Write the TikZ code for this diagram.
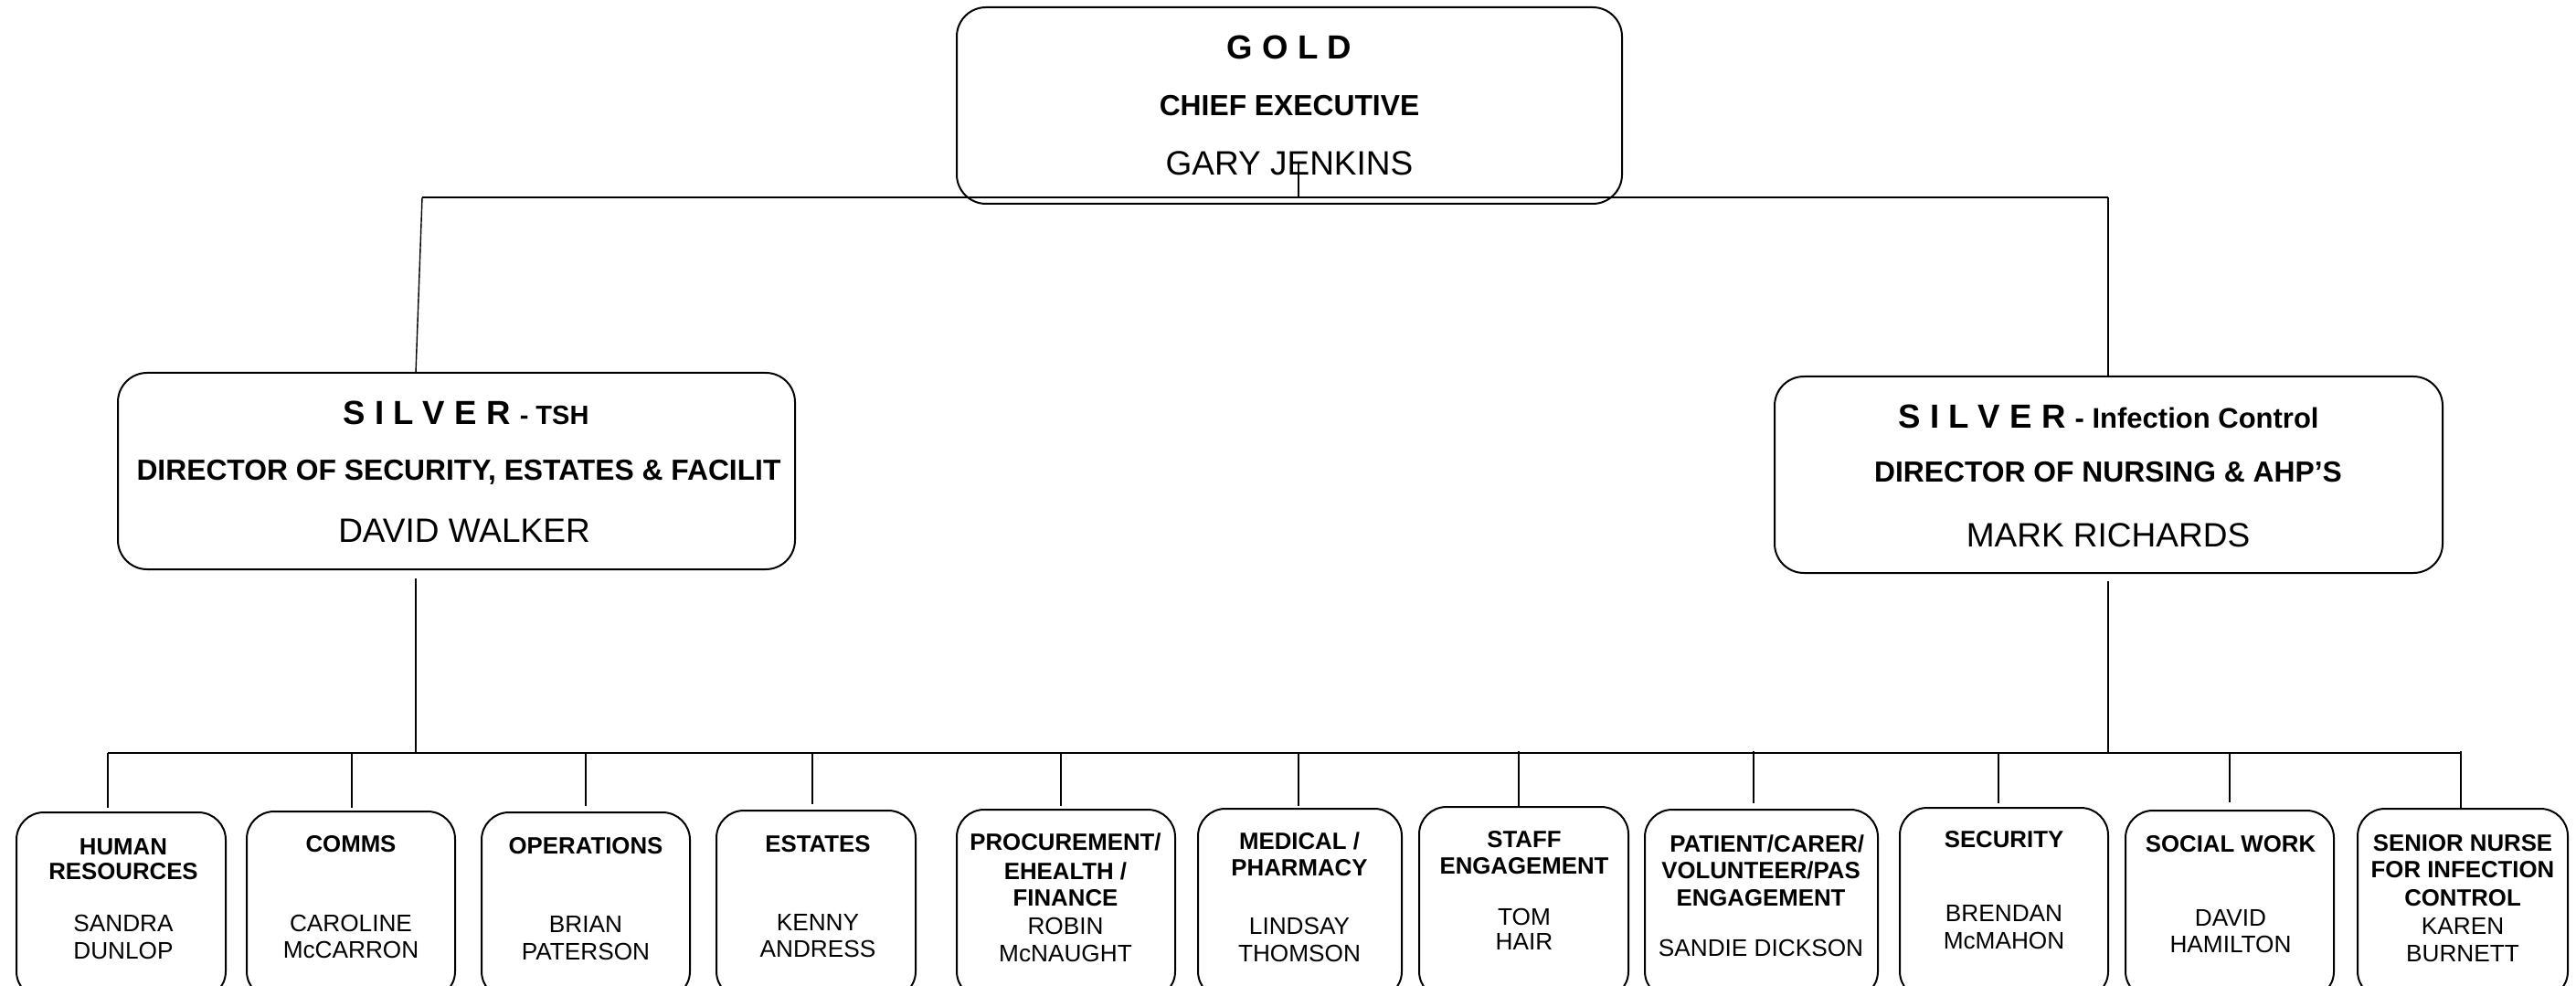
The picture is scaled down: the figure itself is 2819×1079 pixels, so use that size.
\documentclass[tikz,border=0pt]{standalone}
\usepackage{fontspec}
\setmainfont{Liberation Sans}
\newcommand{\tline}[5]{\node[#1] (#2) at (#3,#4) {#5};}
\begin{document}
\begin{tikzpicture}[x=0.5pt,y=-0.5pt,
  box/.style={draw, line width=1pt, rounded corners=16pt, inner sep=0pt},
  bbox/.style={draw, line width=1pt, rounded corners=15pt, inner sep=0pt},
  conn/.style={line width=0.7pt},
  rankt/.style={font=\fontsize{18.3}{20}\selectfont\bfseries, inner sep=0pt, text height=13.1pt, text depth=0pt},
  titlet/.style={font=\fontsize{15.9}{17}\selectfont\bfseries, inner sep=0pt, text height=11.4pt, text depth=0pt},
  namet/.style={font=\fontsize{18.5}{20}\selectfont, inner sep=0pt, text height=13.2pt, text depth=0pt},
  bh/.style={font=\fontsize{12.9}{15}\selectfont\bfseries, inner sep=0pt, text height=9.25pt, text depth=0pt},
  bn/.style={font=\fontsize{13.1}{15}\selectfont, inner sep=0pt, text height=9.4pt, text depth=0pt}
]
\useasboundingbox (0,0) rectangle (2819,1079);
\clip (0,0) rectangle (2819,1079);

% ---- Gold
\node[box, minimum width=364pt, minimum height=107.5pt] (gold) at (1411,115.5) {};
\node[rankt] (goldrank) at (1411,51) {G O L D};
\node[titlet] (goldtitle) at (1411,115) {CHIEF EXECUTIVE};
\node[namet] (goldname) at (1411,178) {GARY JENKINS};

% ---- Silver left
\node[box, minimum width=370.5pt, minimum height=107.5pt] (silverL) at (499.5,515.5) {};
\node[rankt] (silverLrank) at (510,451) {S I L V E R {\fontsize{14.5}{15}\selectfont - TSH}};
\node[titlet] (silverLtitle) at (502,514.5) {DIRECTOR OF SECURITY, ESTATES \& FACILIT};
\node[namet] (silverLname) at (508,580) {DAVID WALKER};

% ---- Silver right
\node[box, minimum width=365.5pt, minimum height=107.5pt] (silverR) at (2307.5,519.5) {};
\node[rankt] (silverRrank) at (2307.5,455) {S I L V E R {\fontsize{15.5}{16}\selectfont - Infection Control}};
\node[titlet] (silverRtitle) at (2307,516) {DIRECTOR OF NURSING \& AHP’S};
\node[namet] (silverRname) at (2307,585) {MARK RICHARDS};

% ---- Bottom boxes
\node[bbox, minimum width=114.5pt, minimum height=102pt]   (hr)    at (132.5,991)  {};
\node[bbox, minimum width=114pt,   minimum height=102.5pt] (comms) at (384,990.5)  {};
\node[bbox, minimum width=114pt,   minimum height=102pt]   (ops)   at (641,991)    {};
\node[bbox, minimum width=109pt,   minimum height=103pt]   (est)   at (893,990)    {};
\node[bbox, minimum width=119.5pt, minimum height=103.5pt] (proc)  at (1166.5,989.5) {};
\node[bbox, minimum width=111.5pt, minimum height=104pt]   (med)   at (1422.5,989) {};
\node[bbox, minimum width=114.5pt, minimum height=105pt]   (staff) at (1667.5,988) {};
\node[bbox, minimum width=127.5pt, minimum height=103.5pt] (pat)   at (1927.5,989.5) {};
\node[bbox, minimum width=114pt,   minimum height=104.5pt] (sec)   at (2193,988.5) {};
\node[bbox, minimum width=114pt,   minimum height=103pt]   (soc)   at (2440,990)   {};
\node[bbox, minimum width=115pt,   minimum height=104pt]   (sen)   at (2695,989)   {};

% ---- Bottom texts
\tline{bh}{hr1}{135}{926.5}{HUMAN}
\tline{bh}{hr2}{135}{953.5}{RESOURCES}
\tline{bn}{hr3}{135}{1010.5}{SANDRA}
\tline{bn}{hr4}{135}{1040.5}{DUNLOP}

\tline{bh}{co1}{384}{923}{COMMS}
\tline{bn}{co2}{384}{1010}{CAROLINE}
\tline{bn}{co3}{384}{1039}{McCARRON}

\tline{bh}{op1}{641}{925}{OPERATIONS}
\tline{bn}{op2}{641}{1011}{BRIAN}
\tline{bn}{op3}{641}{1041}{PATERSON}

\tline{bh}{es1}{895}{923}{ESTATES}
\tline{bn}{es2}{895}{1009}{KENNY}
\tline{bn}{es3}{895}{1038}{ANDRESS}

\tline{bh}{pr1}{1166}{921}{PROCUREMENT/}
\tline{bh}{pr2}{1166}{953}{EHEALTH /}
\tline{bh}{pr3}{1166}{982}{FINANCE}
\tline{bn}{pr4}{1166}{1013}{ROBIN}
\tline{bn}{pr5}{1166}{1043}{McNAUGHT}

\tline{bh}{me1}{1422}{920}{MEDICAL /}
\tline{bh}{me2}{1422}{949}{PHARMACY}
\tline{bn}{me3}{1422}{1013}{LINDSAY}
\tline{bn}{me4}{1422}{1043}{THOMSON}

\tline{bh}{st1}{1668}{918}{STAFF}
\tline{bh}{st2}{1668}{947}{ENGAGEMENT}
\tline{bn}{st3}{1668}{1003}{TOM}
\tline{bn}{st4}{1668}{1030}{HAIR}

\begin{scope}
\clip (1800,900) rectangle (2047,945);
\node[bh, anchor=west] (pa1) at (1827,923) {PATIENT/CARER/};
\end{scope}
\tline{bh}{pa2}{1927}{952}{VOLUNTEER/PAS}
\tline{bh}{pa3}{1927}{982}{ENGAGEMENT}
\tline{bn}{pa4}{1927}{1037}{SANDIE DICKSON}

\tline{bh}{se1}{2193}{918}{SECURITY}
\tline{bn}{se2}{2193}{999}{BRENDAN}
\tline{bn}{se3}{2193}{1029}{McMAHON}

\tline{bh}{so1}{2441}{923}{SOCIAL WORK}
\tline{bn}{so2}{2441}{1004}{DAVID}
\tline{bn}{so3}{2441}{1033}{HAMILTON}

\tline{bh}{sn1}{2695}{922}{SENIOR NURSE}
\tline{bh}{sn2}{2695}{951}{FOR INFECTION}
\tline{bh}{sn3}{2695}{982}{CONTROL}
\tline{bn}{sn4}{2695}{1013}{KAREN}
\tline{bn}{sn5}{2695}{1043}{BURNETT}

% ---- Connectors
\coordinate (gj) at (1421,216);
\coordinate (tl) at (462,216);
\coordinate (tr) at (2307,216);
\coordinate (sLin) at (455,408);
\draw[conn] (gj |- goldname.center) -- (gj);
\draw[conn] (tl) -- (tr);
\draw[conn] (tl) -- (sLin);
\draw[conn] (tr) -- (tr |- silverR.north);

\coordinate (bl) at (455,824);
\coordinate (br) at (2307,824);
\draw[conn, shorten <=4.5pt] (bl |- silverL.south) -- (bl);
\draw[conn, shorten <=4pt] (br |- silverR.south) -- (br);

\coordinate (d1) at (118,824);
\coordinate (d2) at (385,824);
\coordinate (d3) at (641,824);
\coordinate (d4) at (889,824);
\coordinate (d5) at (1161,824);
\coordinate (d6) at (1421,824);
\coordinate (d7) at (1662,824);
\coordinate (d8) at (1919,824);
\coordinate (d9) at (2187,824);
\coordinate (d10) at (2440,824);
\coordinate (d11) at (2693,824);
\draw[conn] (d1) -- (d11);
\draw[conn, shorten >=2pt] (d1) -- (d1 |- hr.north);
\draw[conn, shorten >=1.5pt] (d2) -- (d2 |- comms.north);
\draw[conn, shorten >=3pt] (d3) -- (d3 |- ops.north);
\draw[conn, shorten >=3pt] (d4) -- (d4 |- est.north);
\draw[conn, shorten >=1.5pt] (d5) -- (d5 |- proc.north);
\draw[conn, shorten >=1pt] (d6) -- (d6 |- med.north);
\draw[conn] ([yshift=1pt]d7) -- (d7 |- staff.north);
\draw[conn, shorten >=3pt] ([yshift=1pt]d8) -- (d8 |- pat.north);
\draw[conn, shorten >=2pt] (d9) -- (d9 |- sec.north);
\draw[conn, shorten >=4pt] (d10) -- (d10 |- soc.north);
\draw[conn] ([yshift=1pt]d11) -- (d11 |- sen.north);
\end{tikzpicture}
\end{document}
